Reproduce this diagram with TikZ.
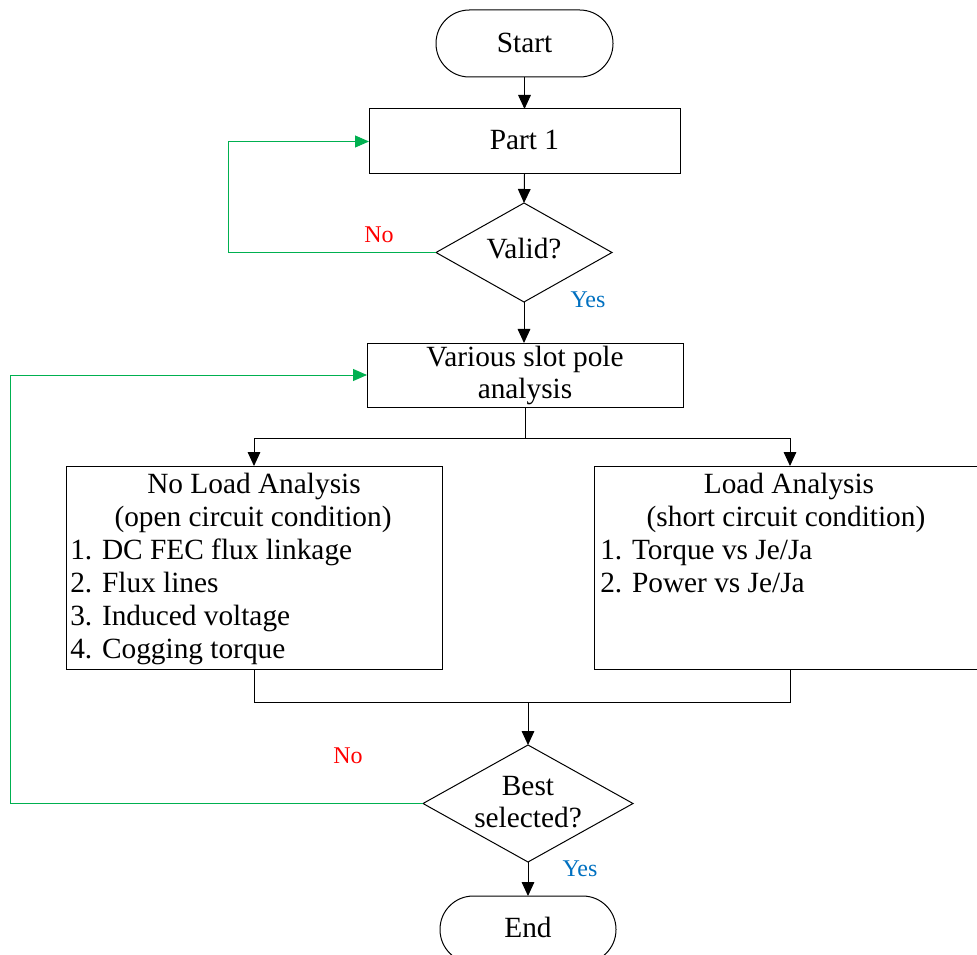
\documentclass[tikz,border=0pt]{standalone}
\usepackage{fontspec}
\setmainfont{Liberation Serif}
\usetikzlibrary{arrows.meta,shapes.geometric}
\definecolor{lgreen}{RGB}{0,176,80}
\definecolor{lblue}{RGB}{0,112,192}
\definecolor{lred}{RGB}{255,0,0}
\begin{document}
\begin{tikzpicture}[x=0.75pt,y=-0.75pt,
  shp/.style={draw=black, line width=0.75pt, inner sep=0pt, outer sep=0pt},
  boxshape/.style={shp, rectangle},
  termshape/.style={shp, rectangle, rounded corners=25pt},
  decshape/.style={shp, diamond, aspect=1},
  txt/.style={anchor=base, inner sep=0pt, font=\fontsize{22}{26}\selectfont},
  txtl/.style={anchor=base west, inner sep=0pt, font=\fontsize{22}{26}\selectfont},
  lbl/.style={anchor=base, inner sep=0pt, font=\fontsize{18}{21}\selectfont},
  conn/.style={draw=black, line width=0.75pt},
  arr/.style={conn, -{Triangle[length=10.5pt,width=9.5pt]}},
  loopline/.style={draw=lgreen, line width=0.75pt, -{Triangle[length=10.5pt,width=9pt]}}
]
\useasboundingbox (0,0) rectangle (977,955);
\clip (0,0) rectangle (977,955);

% shapes
\node[termshape, minimum width=132.75pt, minimum height=50.25pt] (start) at (524.5,43.5) {};
\node[boxshape, minimum width=233.25pt, minimum height=48.75pt] (part1) at (524.5,141.5) {};
\node[decshape, minimum width=132pt, minimum height=74.25pt] (valid) at (524,252.5) {};
\node[boxshape, minimum width=237pt, minimum height=48pt] (various) at (525,375) {};
\node[boxshape, minimum width=282pt, minimum height=152.25pt] (noload) at (254,567.5) {};
\node[boxshape, minimum width=294pt, minimum height=152.25pt] (load) at (790,567.5) {};
\node[decshape, minimum width=157.5pt, minimum height=87.75pt] (best) at (528,803.5) {};
\node[termshape, minimum width=132pt, minimum height=50.25pt] (end) at (528,929.5) {};

% texts
\node[txt] (tstart) at (524.5,53) {Start};
\node[txt] (tpart1) at (524.5,150) {Part 1};
\node[txt] (tvalid) at (524,259) {Valid?};
\node[txt] (tvar1) at (525,366) {Various slot pole};
\node[txt] (tvar2) at (525,398) {analysis};
\node[txt] (tnl1) at (254,493) {No Load Analysis};
\node[txt] (tnl2) at (253,526) {(open circuit condition)};
\node[txtl] (tnl3) at (70,559) {1. DC FEC flux linkage};
\node[txtl] (tnl4) at (70,592) {2. Flux lines};
\node[txtl] (tnl5) at (70,625) {3. Induced voltage};
\node[txtl] (tnl6) at (70,658) {4. Cogging torque};
\node[txt] (tl1) at (789,493) {Load Analysis};
\node[txt] (tl2) at (786,526) {(short circuit condition)};
\node[txtl] (tl3) at (600,559) {1. Torque vs Je/Ja};
\node[txtl] (tl4) at (600,592) {2. Power vs Je/Ja};
\node[txt] (tbest1) at (528,795) {Best};
\node[txt] (tbest2) at (528,827) {selected?};
\node[txt] (tend) at (528,937) {End};

% labels
\node[lbl, text=lred] (no1) at (379,243) {No};
\node[lbl, text=lblue] (yes1) at (588,308) {Yes};
\node[lbl, text=lred] (no2) at (348,763) {No};
\node[lbl, text=lblue] (yes2) at (580,876) {Yes};

% coordinates
\coordinate (g1) at (228,252.5);
\coordinate (g2) at (10,803.5);
\coordinate (br) at (525,438);
\coordinate (mg) at (528,702);

% connectors
\draw[arr] (start.south) -- (part1.north);
\draw[arr] (part1.south) -- (valid.north);
\draw[arr] (valid.south) -- (valid.south |- various.north);
\draw[loopline] (valid.west) -- (g1) |- (part1.west);
\draw[conn] (various.south) -- (br);
\draw[arr] (br) -| (noload.north);
\draw[arr] (br) -| (load.north);
\draw[conn] (noload.south) |- (mg);
\draw[conn] (mg) -| (load.south);
\draw[arr] (mg) -- (best.north);
\draw[loopline] (best.west) -- (g2) |- (various.west);
\draw[arr] (best.south) -- (end.north);
\end{tikzpicture}
\end{document}
